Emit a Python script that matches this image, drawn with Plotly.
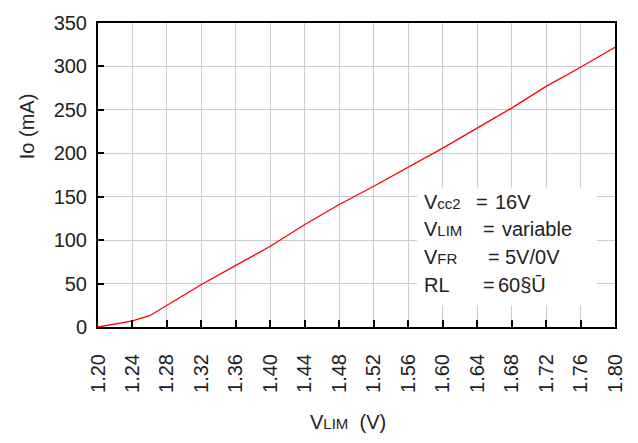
import plotly.graph_objects as go

# Output current Io versus limit voltage VLIM
vlim = [1.20, 1.24, 1.26, 1.28, 1.30, 1.32, 1.36, 1.40, 1.44, 1.48,
        1.52, 1.56, 1.60, 1.64, 1.68, 1.72, 1.76, 1.80]
io_ma = [0, 7, 13, 25, 37, 49, 71, 93, 118, 141,
         162, 184, 206, 229, 252, 277, 299, 322]

x_ticks = [1.20, 1.24, 1.28, 1.32, 1.36, 1.40, 1.44, 1.48,
           1.52, 1.56, 1.60, 1.64, 1.68, 1.72, 1.76, 1.80]
y_ticks = [0, 50, 100, 150, 200, 250, 300, 350]

# Test-condition notes: label, "=", value
cond_labels = ["V<span style='font-size:15px'>cc2</span>",
               "V<span style='font-size:15px'>LIM</span>",
               "V<span style='font-size:15px'>FR</span>",
               "RL"]
cond_values = ["16V", "variable", "5V/0V", "60§Ū"]

FONT = "Liberation Sans, Arial, sans-serif"
TXT = "#222222"
FS = 20

fig = go.Figure()
fig.add_trace(go.Scatter(x=vlim, y=io_ma, mode="lines",
                         line=dict(color="#ff0000", width=1.3),
                         showlegend=False, hoverinfo="skip"))

fig.update_layout(
    width=638, height=443,
    margin=dict(l=98, r=23, t=17, b=116),
    paper_bgcolor="white", plot_bgcolor="white",
    font=dict(family=FONT, size=FS, color=TXT),
    showlegend=False,
)
fig.update_xaxes(
    range=[1.20, 1.80], tickvals=x_ticks, tickformat=".2f",
    tickangle=-90, ticks="inside", ticklen=7, tickwidth=1.5, tickcolor="black",
    ticklabelstandoff=17,
    showgrid=True, gridcolor="#cccccc", gridwidth=1.3,
    showline=True, linecolor="black", linewidth=2, mirror=True,
    zeroline=False, tickfont=dict(family=FONT, size=FS, color=TXT),
)
fig.update_yaxes(
    range=[0, 350], tickvals=y_ticks,
    ticks="inside", ticklen=6, tickwidth=1.5, tickcolor="black",
    ticklabelstandoff=5,
    showgrid=True, gridcolor="#cccccc", gridwidth=1.3,
    showline=True, linecolor="black", linewidth=2, mirror=True,
    zeroline=False, tickfont=dict(family=FONT, size=FS, color=TXT),
)

# Axis titles
fig.add_annotation(text="Io (mA)", xref="paper", yref="paper",
                   x=-0.137, y=0.661, xanchor="center", yanchor="middle",
                   textangle=-90, showarrow=False,
                   font=dict(family=FONT, size=FS, color=TXT))
fig.add_annotation(text="V<span style='font-size:15px'>LIM</span>  (V)",
                   xref="paper", yref="paper", x=0.4836, y=-0.313,
                   xanchor="center", yanchor="middle",
                   showarrow=False, font=dict(family=FONT, size=FS, color=TXT))

# White panel behind the condition notes
fig.add_shape(type="rect", xref="paper", yref="paper",
              x0=0.617, x1=0.965, y0=0.071, y1=0.458,
              fillcolor="white", line=dict(width=0), layer="above")

row_y = [0.4113, 0.321, 0.2306, 0.1371]
eq_x = [0.727, 0.741, 0.750, 0.741]
val_x = [0.764, 0.778, 0.783, 0.770]
for lab, val, yy, ex, vx in zip(cond_labels, cond_values, row_y, eq_x, val_x):
    for txt, xx in ((lab, 0.627), ("=", ex), (val, vx)):
        fig.add_annotation(text=txt, xref="paper", yref="paper", x=xx, y=yy,
                           xanchor="left", yanchor="middle", showarrow=False,
                           font=dict(family=FONT, size=FS, color=TXT))

fig.write_html("out.html")
